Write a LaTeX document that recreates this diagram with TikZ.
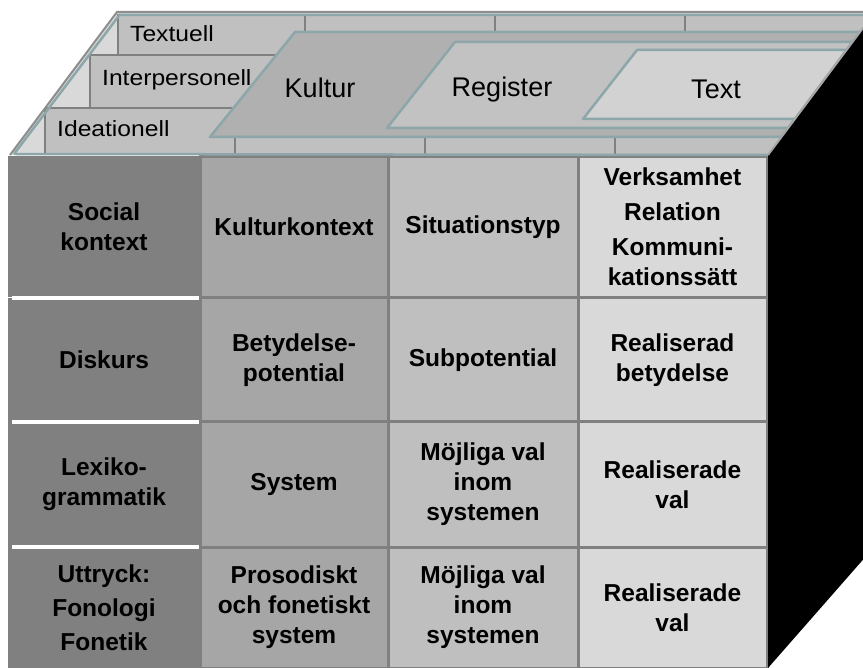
\documentclass[tikz,border=0pt]{standalone}
\usepackage{fontspec}
\setmainfont{Liberation Sans}
\newfontfamily\layerfont[FakeStretch=1.12]{Liberation Sans}
\usepackage{tikz}
\usepackage{xcolor}
\definecolor{ColEdge}{RGB}{141,166,170}
\definecolor{ColGrid}{RGB}{128,128,128}
\definecolor{ColA}{RGB}{128,128,128}
\definecolor{ColB}{RGB}{166,166,166}
\definecolor{ColC}{RGB}{191,191,191}
\definecolor{ColD}{RGB}{217,217,217}
\definecolor{ColRow}{RGB}{192,192,192}
\definecolor{ColKultur}{RGB}{176,176,176}
\definecolor{ColRegister}{RGB}{194,194,194}
\definecolor{ColText}{RGB}{210,210,210}
\tikzstyle{CellFront}=[inner sep=0pt,align=center,
font=\fontsize{24.5}{30}\selectfont\bfseries]
\tikzstyle{CellA}=[CellFront,fill=ColA,minimum width=192pt]
\tikzstyle{CellB}=[CellFront,fill=ColB,draw=ColGrid,line width=3pt,minimum width=188pt]
\tikzstyle{CellC}=[CellFront,fill=ColC,draw=ColGrid,line width=3pt,minimum width=190pt]
\tikzstyle{CellD}=[CellFront,fill=ColD,draw=ColGrid,line width=3pt,minimum width=189pt]
\tikzstyle{RowOne}=[minimum height=141pt]
\tikzstyle{RowTwo}=[minimum height=124pt]
\tikzstyle{RowThree}=[minimum height=125pt]
\tikzstyle{RowFour}=[minimum height=121pt]
\tikzstyle{WhiteRule}=[white,line width=4pt]
\tikzstyle{LayerRow}=[fill=ColRow,draw=ColGrid,line width=2.5pt]
\tikzstyle{LayerLine}=[ColGrid,line width=2.5pt]
\tikzstyle{LayerLabel}=[inner sep=0pt,anchor=base west,font=\layerfont\fontsize{22}{26}\selectfont]
\tikzstyle{PlaneShape}=[draw=ColEdge,line width=2.5pt,line join=round]
\tikzstyle{PlaneLabel}=[inner sep=0pt,anchor=base,font=\fontsize{27}{32}\selectfont]
\tikzstyle{RimOuter}=[ColGrid!90,line width=2pt]
\tikzstyle{RimInner}=[ColEdge,line width=2.5pt]
\begin{document}
\begin{tikzpicture}[x=1pt,y=-1pt]
        \clip (0,0) rectangle (863,668);
        % front face
        \node[CellA,RowOne](social)at(104,227){Social\\kontext};
        \node[CellA,RowTwo](diskurs)at(104,360){Diskurs};
        \node[CellA,RowThree](lexiko)at(104,484.5){Lexiko-\\grammatik};
        \node[CellA,RowFour](uttryck)at(104,607.5){Uttryck:\\[4pt]Fonologi\\[4pt]Fonetik};
        \node[CellB,RowOne](kulturkontext)at(294,227){Kulturkontext};
        \node[CellB,RowTwo](betydelse)at(294,360){Betydelse-\\potential};
        \node[CellB,RowThree](system)at(294,484.5){System};
        \node[CellB,RowFour](prosodi)at(294,607.5){Prosodiskt\\och fonetiskt\\system};
        \node[CellC,RowOne](situation)at(483,227){Situationstyp};
        \node[CellC,RowTwo](subpot)at(483,360){Subpotential};
        \node[CellC,RowThree](mojliga)at(483,484.5){M\"ojliga val\\inom\\systemen};
        \node[CellC,RowFour](mojligaB)at(483,607.5){M\"ojliga val\\inom\\systemen};
        \node[CellD,RowOne](verksamhet)at(672.5,227){Verksamhet\\[5pt]Relation\\[5pt]Kommuni-\\kationss\"att};
        \node[CellD,RowTwo](realbet)at(672.5,360){Realiserad\\betydelse};
        \node[CellD,RowThree](realval)at(672.5,484.5){Realiserade\\val};
        \node[CellD,RowFour](realvalB)at(672.5,607.5){Realiserade\\val};
        \draw[WhiteRule]([xshift=4pt]social.south west)--([xshift=-1pt]social.south east);
        \draw[WhiteRule]([xshift=4pt]diskurs.south west)--([xshift=-1pt]diskurs.south east);
        \draw[WhiteRule]([xshift=4pt]lexiko.south west)--([xshift=-1pt]lexiko.south east);
        % top face
        \coordinate(tl)at(117,12);
        \coordinate(bl)at(10,155);
        \coordinate(tr)at(875,12);
        \coordinate(br)at(768,155);
        \fill[ColD](bl)--(tl)--(tr)--(br)--cycle;
        \begin{scope}
            \clip(bl)--(tl)--(tr)--(br)--cycle;
            \draw[LayerRow](118,15)rectangle(900,55);
            \draw[LayerRow](90,55)rectangle(900,108);
            \draw[LayerRow](45,108)rectangle(900,155);
            \draw[LayerLine](305,15)--(305,55);
            \draw[LayerLine](495,15)--(495,55);
            \draw[LayerLine](685,15)--(685,55);
            \draw[LayerLine](235,108)--(235,155);
            \draw[LayerLine](425,108)--(425,155);
            \draw[LayerLine](615,108)--(615,155);
        \end{scope}
        \draw[RimOuter](bl)--(tl)--(tr);
        \draw[RimInner](14,154)--(119.5,15)--(875,15);
        \draw[RimInner](14,154)--(br);
        \node[LayerLabel](textuell)at(130,42){Textuell};
        \node[LayerLabel](interpers)at(102,86){Interpersonell};
        \node[LayerLabel](ideation)at(57,137){Ideationell};
        % planes
        \draw[PlaneShape,fill=ColKultur](295,32)--(860,32)--(781.5,137)--(210,137)--cycle;
        \draw[PlaneShape,fill=ColRegister](455,42)--(852.5,42)--(788,128)--(387,128)--cycle;
        \draw[PlaneShape,fill=ColText](637,50)--(846.5,50)--(795,119)--(583,119)--cycle;
        \node[PlaneLabel](kultur)at(320,98){Kultur};
        \node[PlaneLabel](register)at(502,97){Register};
        \node[PlaneLabel](text)at(716,99){Text};
        % side face
        \fill[black](br)--(tr)--(875,546)--(768,668)--cycle;
        \draw[ColGrid!70,line width=2pt](br)--(tr);
    \end{tikzpicture}
\end{document}
